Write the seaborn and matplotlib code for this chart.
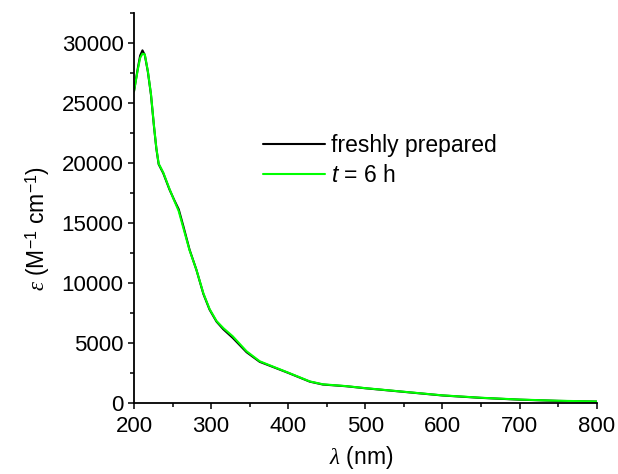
import pandas as pd
import seaborn as sns
import matplotlib
matplotlib.use("Agg")
import matplotlib.pyplot as plt
from matplotlib.ticker import MultipleLocator

# Values
wavelength = [200, 205, 208, 211, 214, 218, 222, 226, 229, 232, 238, 246, 252,
              258, 264, 272, 281, 290, 298, 307, 316, 328, 346, 363, 380, 400,
              428, 445, 475, 500, 550, 600, 650, 700, 750, 800]
eps_fresh = [25970, 27900, 28950, 29380, 29000, 27600, 25700, 23000, 21200,
             19900, 19150, 17800, 16950, 16150, 14750, 12800, 11100, 9100,
             7800, 6800, 6150, 5450, 4250, 3450, 3030, 2530, 1800, 1560, 1420,
             1250, 950, 650, 450, 300, 200, 140]
eps_6h = [25970, 27800, 28750, 29100, 29050, 27650, 25750, 23050, 21250,
          19950, 19200, 17850, 16900, 16000, 14600, 12750, 11100, 9150,
          7850, 6850, 6250, 5580, 4330, 3500, 3060, 2550, 1820, 1580, 1430,
          1260, 960, 660, 460, 310, 210, 150]
labels = ["freshly prepared", "$\\mathsf{t}$ = 6 h"]

FS = 16.5


def main():
    sns.set_style("ticks")
    plt.rcParams['font.family'] = ['Liberation Sans', 'DejaVu Sans']
    plt.rcParams['font.size'] = FS
    plt.rcParams['text.color'] = 'black'
    plt.rcParams['axes.labelcolor'] = 'black'
    plt.rcParams['xtick.color'] = 'black'
    plt.rcParams['ytick.color'] = 'black'
    plt.rcParams['mathtext.fontset'] = 'custom'
    plt.rcParams['mathtext.rm'] = 'Liberation Sans'
    plt.rcParams['mathtext.it'] = 'Liberation Serif:italic'
    plt.rcParams['mathtext.sf'] = 'Liberation Sans:italic'

    df = pd.concat([
        pd.DataFrame({"wl": wavelength, "eps": eps_fresh, "run": labels[0]}),
        pd.DataFrame({"wl": wavelength, "eps": eps_6h, "run": labels[1]}),
    ])

    fig = plt.figure(figsize=(6.18, 4.74), dpi=100)
    ax = fig.add_axes([0.2168, 0.1492, 0.7487, 0.8236])
    sns.lineplot(data=df, x="wl", y="eps", hue="run", hue_order=labels,
                 palette=["black", "#00ff00"], linewidth=1.5, ax=ax)

    ax.set_xlim(200, 800)
    ax.set_ylim(0, 32500)
    ax.xaxis.set_major_locator(MultipleLocator(100))
    ax.xaxis.set_minor_locator(MultipleLocator(50))
    ax.yaxis.set_major_locator(MultipleLocator(5000))
    ax.yaxis.set_minor_locator(MultipleLocator(2500))
    ax.tick_params(which='major', length=4.3, width=1.1, labelsize=16)
    ax.tick_params(axis='y', which='major', pad=3.2)
    ax.tick_params(axis='x', which='major', pad=4.5)
    ax.tick_params(which='minor', length=2.6, width=1.1)
    sns.despine(ax=ax)
    for s in ["left", "bottom"]:
        ax.spines[s].set_linewidth(1.3)
        ax.spines[s].set_color("black")

    ax.set_xlabel("$\\lambda$ (nm)", fontsize=FS)
    ax.set_ylabel("$\\varepsilon$ (M$^{-1}$ cm$^{-1}$)", fontsize=FS)
    ax.xaxis.set_label_coords(0.49, -0.105)
    ax.yaxis.set_label_coords(-0.178, 0.449)

    ax.legend(loc="upper left", bbox_to_anchor=(0.4256, 0.717),
              bbox_transform=fig.transFigure, frameon=False, fontsize=FS,
              handlelength=2.7, handletextpad=0.28, labelspacing=0.3,
              borderpad=0, borderaxespad=0)

    fig.savefig("out.png", dpi=100)


if __name__ == "__main__":
    main()
